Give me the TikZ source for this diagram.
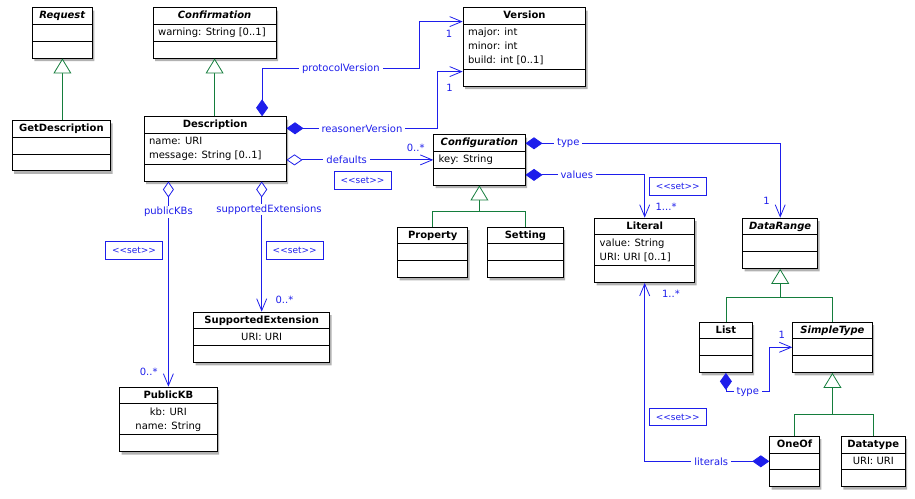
\documentclass[tikz,border=0pt]{standalone}
\usepackage{fontspec}
\usepackage{tikz}
\usetikzlibrary{shapes.multipart,shadows}
\usetikzlibrary{arrows.meta}

\newfontfamily\umlfont{DejaVu Sans}
\definecolor{umlblue}{RGB}{30,30,235}
\definecolor{umlgreen}{RGB}{20,125,60}

\newcommand{\umlname}[1]{\strut\textbf{#1}}
\newcommand{\umlabstract}[1]{\strut\textbf{\textit{#1}}}
\newcommand{\setlbl}{<\kern0pt<set>\kern0pt>}

\tikzset{
    umlclass/.style={rectangle split, rectangle split parts=3, draw, fill=white,
        line width=0.8pt, anchor=north west, inner xsep=5pt, inner ysep=1pt, align=left,
        rectangle split part align={center,left,center},
        drop shadow={shadow xshift=2pt, shadow yshift=-3pt, fill=black, opacity=0.3}},
    centred/.style={align=center, rectangle split part align={center,center,center}},
    lbl/.style={text=umlblue, fill=white, inner xsep=3pt, inner ysep=1pt,
        font=\umlfont\fontsize{10}{12}\selectfont},
    mult/.style={text=umlblue, inner sep=1pt, font=\umlfont\fontsize{10}{12}\selectfont},
    setbox/.style={draw=umlblue, text=umlblue, line width=0.8pt, minimum width=57pt,
        minimum height=17.6pt, inner sep=1pt, font=\umlfont\fontsize{9}{11}\selectfont},
    compose/.style={draw=umlblue, line width=0.8pt,
        {Diamond[length=17pt,width=12pt]}-{Straight Barb[length=12pt,width=10pt]}},
    aggregate/.style={draw=umlblue, line width=0.8pt,
        {Diamond[open,fill=white,length=16pt,width=11pt]}-{Straight Barb[length=12pt,width=10pt]}},
    genline/.style={draw=umlgreen, line width=0.8pt},
    inherit/.style={genline, -{Triangle[open,fill=white,length=15pt,width=18pt]}}
}

\begin{document}
\begin{tikzpicture}[x=1pt,y=1pt,font=\umlfont\fontsize{10}{14}\selectfont]
            \useasboundingbox (0,0) rectangle (915,498);

            \begin{scope}[every node/.style={umlclass}]
                \node[minimum width=60pt] (req) at (32,490.7) {\umlabstract{Request}\nodepart{two}\strut\nodepart{three}\strut};
                \node[minimum width=98.6pt] (getdesc) at (11.7,378) {\umlname{GetDescription}\nodepart{two}\strut\nodepart{three}\strut};
                \node[minimum width=123pt] (confirm) at (152.7,490.7) {\umlabstract{Confirmation}\nodepart{two}\strut warning: String [0..1]\nodepart{three}\strut};
                \node[minimum width=142pt] (desc) at (143.7,381.7) {\umlname{Description}\nodepart{two}\strut name: URI\\ message: String [0..1]\strut\nodepart{three}\strut};
                \node[minimum width=122.6pt] (version) at (462.7,490.7) {\umlname{Version}\nodepart{two}\strut major: int\\ minor: int\\ build: int [0..1]\strut\nodepart{three}\strut};
                \node[minimum width=91.4pt] (config) at (433.3,363.7) {\umlabstract{Configuration}\nodepart{two}\strut key: String\nodepart{three}\strut};
                \node[minimum width=70pt] (prop) at (397.3,271.3) {\umlname{Property}\nodepart{two}\strut\nodepart{three}\strut};
                \node[minimum width=75.4pt] (setting) at (487.3,271.3) {\umlname{Setting}\nodepart{two}\strut\nodepart{three}\strut};
                \node[minimum width=100pt] (literal) at (594.3,280.3) {\umlname{Literal}\nodepart{two}\strut value: String\\ URI: URI [0..1]\strut\nodepart{three}\strut};
                \node[minimum width=75pt] (drange) at (742.3,280.3) {\umlabstract{DataRange}\nodepart{two}\strut\nodepart{three}\strut};
                \node[minimum width=52.4pt] (list) at (699.3,176.3) {\umlname{List}\nodepart{two}\strut\nodepart{three}\strut};
                \node[minimum width=79.4pt] (stype) at (792.3,176.3) {\umlabstract{SimpleType}\nodepart{two}\strut\nodepart{three}\strut};
                \node[minimum width=49.7pt] (oneof) at (769.3,62.3) {\umlname{OneOf}\nodepart{two}\strut\nodepart{three}\strut};
                \node[minimum width=63.7pt,centred] (dtype) at (841,62.3) {\umlname{Datatype}\nodepart{two}\strut URI: URI\nodepart{three}\strut};
                \node[minimum width=136pt,centred] (suppext) at (193.3,186.3) {\umlname{SupportedExtension}\nodepart{two}\strut URI: URI\nodepart{three}\strut};
                \node[minimum width=97.4pt,centred] (pubkb) at (119.3,111.3) {\umlname{PublicKB}\nodepart{two}\strut kb: URI\\ name: String\strut\nodepart{three}\strut};
            \end{scope}

            \begin{scope}[every node/.style={setbox}]
                \node (setdef) at (362.5,317.5) {\setlbl};
                \node (setval) at (677.7,311.7) {\setlbl};
                \node (setlit) at (677.7,81) {\setlbl};
                \node (setpkb) at (134,247.5) {\setlbl};
                \node (setext) at (294.7,247.5) {\setlbl};
            \end{scope}

            \coordinate (cfgjoin) at ([yshift=-26pt]config.south);
            \coordinate (drjoin) at ([yshift=-28.3pt]drange.south);
            \coordinate (stjoin) at ([yshift=-41pt]stype.south);

            \path (req.south |- getdesc.north) edge[inherit] (req.south);
            \path (confirm.south |- desc.north) edge[inherit] (confirm.south);
            \draw[genline] (prop.north) |- (cfgjoin) -| (setting.north);
            \path (cfgjoin) edge[inherit] (config.south);
            \draw[genline] (list.north) |- (drjoin) -| (stype.north);
            \path (drjoin) edge[inherit] (drange.south);
            \draw[genline] (oneof.north) |- (stjoin) -| (dtype.north);
            \path (stjoin) edge[inherit] (stype.south);

            \draw[compose] ([xshift=47pt]desc.north) -- ++(0,48)
                -- node[lbl] (lprot) {protocolVersion} ++(157.6,0)
                |- node[mult,pos=0.84,below=7pt] (mprot) {1} ([yshift=25.3pt]version.west);
            \draw[compose] ([yshift=20.6pt]desc.east)
                -- node[lbl] (lreas) {reasonerVersion} ++(151,0)
                |- node[mult,pos=0.74,below=11pt] (mreas) {1} ([yshift=-24.7pt]version.west);
            \path (desc.east |- config.west) edge[aggregate]
                node[lbl,pos=0.41] (ldef) {defaults}
                node[mult,pos=0.88,above=7pt] (mdef) {0..*} (config.west);
            \draw[compose] ([yshift=16.6pt]config.east)
                -| node[lbl,pos=0.084] (ltype) {type}
                node[mult,pos=0.89,left=9pt] (mtype) {1} (drange.north);
            \draw[compose] ([yshift=-15pt]config.east)
                -| node[lbl,pos=0.215] (lval) {values}
                node[mult,pos=0.875,right=9.5pt] (mval) {1...*} (literal.north);
            \draw[compose] (oneof.west)
                -| node[lbl,pos=0.233] (llit) {literals}
                node[mult,pos=0.97,right=16pt] (mlit) {1..*} (literal.south);
            \draw[compose] (list.south) -- ++(0,-19)
                -- node[lbl] (llist) {type} ++(43.8,0)
                |- node[mult,pos=0.77,above=7.5pt] (mlist) {1} (stype.west);
            \path (pubkb.north |- desc.south) edge[aggregate]
                node[lbl,pos=0.147] (lpkb) {publicKBs}
                node[mult,pos=0.93,left=9.5pt] (mpkb) {0..*} (pubkb.north);
            \path (suppext.north |- desc.south) edge[aggregate]
                node[lbl,pos=0.215,xshift=7.3pt] (lext) {supportedExtensions}
                node[mult,pos=0.91,right=12.5pt] (mext) {0..*} (suppext.north);
        \end{tikzpicture}
\end{document}
